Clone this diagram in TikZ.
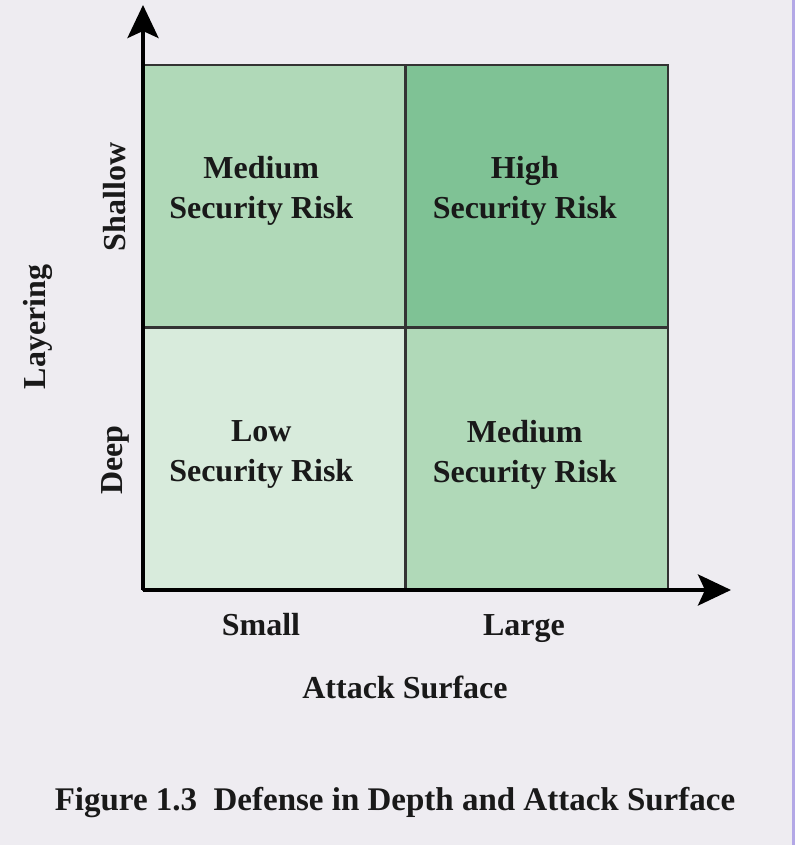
\documentclass[tikz,border=0pt]{standalone}
\usepackage{fontspec}
\setmainfont{Liberation Serif}
\usetikzlibrary{arrows.meta,positioning}
\definecolor{paper}{HTML}{EEECF1}
\definecolor{edgeblue}{HTML}{B3A8E6}
\definecolor{risklow}{HTML}{D8EBDC}
\definecolor{riskmed}{HTML}{B0D9B8}
\definecolor{riskhigh}{HTML}{7FC295}
\tikzset{
  axisline/.style={-{Stealth[length=33pt,width=31pt,inset=7pt]}, line width=4pt, black},
  cell/.style={draw=black!80, line width=2.2pt, minimum width=262.5pt, minimum height=262.5pt, inner sep=0pt},
  risk/.style={font=\fontsize{32}{40}\selectfont\bfseries, align=center, text=black!90},
  tag/.style={font=\fontsize{32}{40}\selectfont\bfseries, text=black!90}
}
\begin{document}
\begin{tikzpicture}[x=1pt,y=1pt]
  % page and screen edge
  \fill[paper] (0,0) rectangle (795,845);
  \fill[edgeblue] (792,0) rectangle (795,845);
  \useasboundingbox (0,0) rectangle (795,845);

  % risk matrix
  \node[cell,fill=riskmed]  (tl) at (274.25,648.75) {};
  \node[cell,fill=riskhigh] (tr) at (536.75,648.75) {};
  \node[cell,fill=risklow]  (bl) at (274.25,386.25) {};
  \node[cell,fill=riskmed]  (br) at (536.75,386.25) {};

  \node[risk] (tltext) at ([shift={(-13,5)}]tl.center) {Medium\\Security Risk};
  \node[risk] (trtext) at ([shift={(-12,5)}]tr.center) {High\\Security Risk};
  \node[risk] (bltext) at ([shift={(-13,4)}]bl.center) {Low\\Security Risk};
  \node[risk] (brtext) at ([shift={(-12,4)}]br.center) {Medium\\Security Risk};

  % axes
  \coordinate (origin) at (143,255);
  \coordinate (ytip) at (143,840);
  \coordinate (xtip) at (731,255);
  \draw[axisline] (origin) -- (ytip);
  \draw[axisline] (origin) -- (xtip);

  % axis labels
  \node[tag,rotate=90] (shallow) at (115,648) {Shallow};
  \node[tag,rotate=90] (deep) at (115,385) {Deep};
  \node[tag,rotate=90] (layering) at (38,518) {Layering};
  \node[tag,anchor=base] (small) at (261,209) {Small};
  \node[tag,anchor=base] (large) at (524,209) {Large};
  \node[tag] (surface) at (405,158) {Attack Surface};

  % caption
  \node[tag,font=\fontsize{33}{40}\selectfont\bfseries] (caption) at (395,42) {Figure 1.3\hspace{0.5em}Defense in Depth and Attack Surface};
\end{tikzpicture}
\end{document}
